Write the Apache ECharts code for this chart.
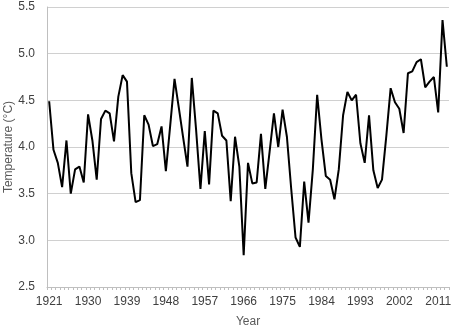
<!DOCTYPE html>
<html><head><meta charset="utf-8">
<script src="https://cdn.jsdelivr.net/npm/echarts@6/dist/echarts.min.js"></script>
<style>html,body{margin:0;padding:0;background:#fff}#c{width:454px;height:330px}</style>
</head><body><div id="c"></div>
<script>
const startYear = 1921;
const temps = [4.49,3.97,3.83,3.57,4.07,3.50,3.76,3.79,3.62,4.35,
4.07,3.65,4.30,4.39,4.36,4.06,4.54,4.77,4.70,3.72,
3.41,3.43,4.34,4.24,4.01,4.03,4.22,3.74,4.23,4.73,
4.42,4.10,3.79,4.74,4.18,3.55,4.17,3.60,4.39,4.36,
4.12,4.07,3.42,4.11,3.79,2.84,3.83,3.61,3.62,4.14,
3.55,3.95,4.36,4.00,4.40,4.11,3.55,3.03,2.93,3.63,
3.19,3.76,4.56,4.08,3.69,3.65,3.44,3.76,4.34,4.59,
4.50,4.56,4.04,3.83,4.34,3.75,3.56,3.65,4.12,4.63,
4.48,4.41,4.15,4.79,4.81,4.91,4.94,4.64,4.70,4.75,
4.37,5.36,4.86];
const years = temps.map((_, i) => String(startYear + i));
const yTicks = [2.5, 3.0, 3.5, 4.0, 4.5, 5.0, 5.5];

const chart = echarts.init(document.getElementById('c'), null, {renderer: 'canvas'});
const font = '"Liberation Sans", Arial, sans-serif';
chart.setOption({
  animation: false,
  grid: {left: 47, right: 5, top: 7, bottom: 43, containLabel: false, outerBoundsMode: 'none'},
  xAxis: {
    type: 'category', data: years, boundaryGap: true,
    name: 'Year', nameLocation: 'middle', nameGap: 29, nameMoveOverlap: false,
    nameTextStyle: {color: '#595959', fontSize: 12, fontFamily: font},
    axisLine: {lineStyle: {color: '#bfbfbf'}},
    axisTick: {show: true, interval: 0, length: 3, lineStyle: {color: '#bfbfbf'}},
    axisLabel: {interval: 8, color: '#404040', fontSize: 12, fontFamily: font, margin: 9},
    splitLine: {show: false}
  },
  yAxis: {
    type: 'value', min: yTicks[0], max: yTicks[yTicks.length - 1], interval: 0.5,
    name: 'Temperature (°C)', nameLocation: 'middle', nameGap: 32, nameMoveOverlap: false,
    nameTextStyle: {color: '#595959', fontSize: 12, fontFamily: font},
    axisLine: {show: true, lineStyle: {color: '#bfbfbf'}},
    axisTick: {show: false},
    axisLabel: {color: '#404040', fontSize: 12, fontFamily: font, margin: 12,
      formatter: v => v.toFixed(1)},
    splitLine: {lineStyle: {color: '#d0d0d0'}}
  },
  series: [{
    type: 'line', data: temps, showSymbol: false, symbol: 'none',
    lineStyle: {color: '#000', width: 2}
  }]
});
</script></body></html>
